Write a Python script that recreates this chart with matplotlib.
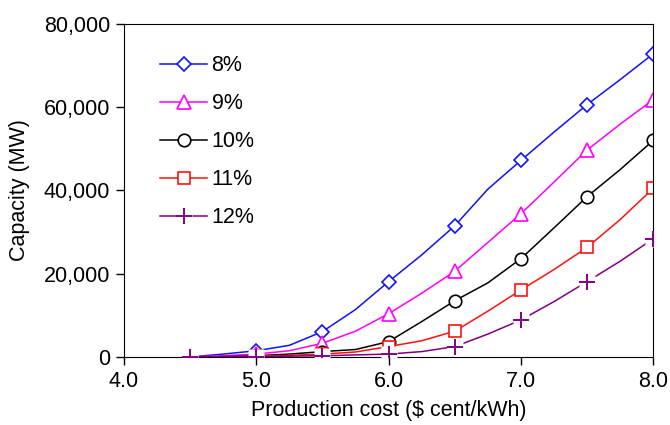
#Capacity vs production cost for different discount rates.
import numpy as np
import matplotlib.pyplot as plt
from matplotlib.ticker import FuncFormatter, FormatStrFormatter, MultipleLocator

plt.rcParams['font.family'] = ['Liberation Sans', 'DejaVu Sans']

#Production cost (cent/kWh), markers every 0.5.
cost = [4.5, 4.75, 5.0, 5.25, 5.5, 5.75, 6.0, 6.25, 6.5, 6.75, 7.0, 7.25, 7.5, 7.75, 8.0]

#Capacity (MW).
cap_8 = [0, 700, 1500, 2800, 6100, 11400, 18100, 24500, 31500, 40300, 47200, 54000, 60600, 66600, 72800]
cap_9 = [0, 300, 700, 1500, 3300, 6200, 10400, 15300, 20600, 27500, 34400, 42000, 49700, 55900, 61800]
cap_10 = [0, 100, 300, 700, 1300, 1800, 3700, 8500, 13500, 17800, 23600, 31000, 38500, 45000, 52000]
cap_11 = [0, 50, 200, 400, 700, 1200, 2500, 3900, 6200, 11000, 16100, 21000, 26300, 33000, 40500]
cap_12 = [0, 30, 100, 200, 300, 500, 700, 1300, 2500, 5500, 8900, 13300, 18100, 23000, 28400]

labels = ['8%', '9%', '10%', '11%', '12%']

fig = plt.figure(figsize=(6.7, 4.25), dpi=100)
ax = fig.add_axes([0.185, 0.16, 0.79, 0.784])

l8, = ax.plot(cost, cap_8, color='#1010ff', lw=1.1, marker='D', ms=7, mfc='white', mew=1.2, markevery=2)
l9, = ax.plot(cost, cap_9, color='#ff00ff', lw=1.1, marker='^', ms=10, mfc='white', mew=1.2, markevery=2)
l10, = ax.plot(cost, cap_10, color='black', lw=1.1, marker='o', ms=9, mfc='white', mew=1.2, markevery=2)
l11, = ax.plot(cost, cap_11, color='#ff1010', lw=1.1, marker='s', ms=9, mfc='white', mew=1.2, markevery=2)

#12% line: plus markers with a white patch behind them (gaps in the line).
l12, = ax.plot(cost, cap_12, color='#800080', lw=1.1)
bg12, = ax.plot(cost[::2], cap_12[::2], ls='none', marker='s', ms=11, mfc='white', mec='none', zorder=3)
pl12, = ax.plot(cost[::2], cap_12[::2], ls='none', marker='+', ms=12, mew=1.4, color='#800080', zorder=4)

ax.set_xlim(4.0, 8.0)
ax.set_ylim(0, 80000)
ax.xaxis.set_major_locator(MultipleLocator(1.0))
ax.xaxis.set_major_formatter(FormatStrFormatter('%.1f'))
ax.yaxis.set_major_locator(MultipleLocator(20000))
ax.yaxis.set_major_formatter(FuncFormatter(lambda v, p: '{:,.0f}'.format(v)))
ax.tick_params(direction='out', length=6, width=1, labelsize=15.5, pad=4)

ax.set_xlabel(r'Production cost (\$ cent/kWh)', fontsize=15.5, labelpad=6)
ax.set_ylabel('Capacity (MW)', fontsize=15.5, labelpad=10)

ax.legend([l8, l9, l10, l11, (l12, bg12, pl12)], labels, loc='upper left',
          bbox_to_anchor=(0.068, 0.905), frameon=False, fontsize=15.5,
          handlelength=2.2, handletextpad=0.2, labelspacing=0.79, borderpad=0, borderaxespad=0)

plt.savefig('out.png', dpi=100)
